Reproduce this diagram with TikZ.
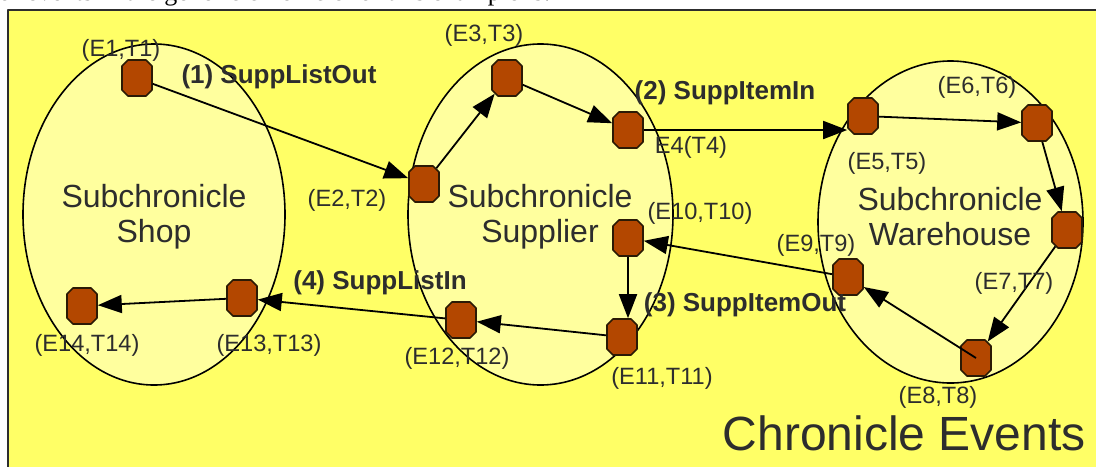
\documentclass[tikz,border=0pt]{standalone}
\usepackage{fontspec}
\setmainfont{Liberation Sans}
\newfontfamily\pageserif{Liberation Serif}
\usetikzlibrary{arrows.meta,shapes.geometric,shapes.misc}
\definecolor{chrpanel}{HTML}{FFFF66}
\definecolor{chrsub}{HTML}{FFFF9E}
\definecolor{chrevent}{HTML}{B34700}
\definecolor{chredge}{HTML}{2B1A05}
\definecolor{chrink}{HTML}{2D2D2D}

\begin{document}
\begin{tikzpicture}[x=0.5pt,y=-0.5pt,>={Triangle[length=12pt,width=9pt]},
  line join=round,
  sub/.style={ellipse,draw=black,line width=0.8pt,fill=chrsub,inner sep=0pt},
  event/.style={chamfered rectangle,chamfered rectangle xsep=1.5pt,
    chamfered rectangle ysep=1.5pt,inner xsep=6pt,inner ysep=7.5pt,
    fill=chrevent,draw=chredge,line width=0.8pt},
  stamp/.style={font=\fontsize{11.8}{13}\selectfont,text=chrink,inner sep=0pt},
  msg/.style={font=\fontsize{13}{15}\selectfont\bfseries,text=chrink,inner sep=0pt},
  title/.style={font=\fontsize{16}{17.5}\selectfont,text=chrink,align=center,inner sep=0pt},
  flow/.style={->,line width=0.9pt}]
\path[use as bounding box] (0,0) rectangle (1096,466);
\fill[white] (0,0) rectangle (1096,466);

% line of the page above the figure, cut off
\begin{scope}
  \clip (0,0) rectangle (1096,9);
  \node[font=\pageserif\fontsize{13}{15}\selectfont,anchor=base west,inner sep=0pt]
    (pagetext) at (-2,1) {of events in the generic chronicle for this example is:};
\end{scope}

% panel
\draw[fill=chrpanel,draw=chrink,line width=1pt] (8,10) rectangle (1110,480);

% the three subchronicles
\node[sub,minimum width=131pt,minimum height=170.5pt] (shop) at (154,214.5) {};
\node[sub,minimum width=132.5pt,minimum height=170.5pt] (supplier) at (540.5,214.5) {};
\node[sub,minimum width=132.5pt,minimum height=161pt] (warehouse) at (950.5,222) {};
\node[title] (shoptxt) at (154,217) {Subchronicle\\Shop};
\node[title] (suppliertxt) at (540,217) {Subchronicle\\Supplier};
\node[title] (warehousetxt) at (950,217) {Subchronicle\\Warehouse};

% events
\node[event] (e1) at (137,78) {};
\node[event] (e2) at (424,184) {};
\node[event] (e3) at (507,78) {};
\node[event] (e4) at (628,130) {};
\node[event] (e5) at (863,116) {};
\node[event] (e6) at (1037,123) {};
\node[event] (e7) at (1067,230) {};
\node[event] (e8) at (976,358) {};
\node[event] (e9) at (848,277) {};
\node[event] (e10) at (628,238) {};
\node[event] (e11) at (622,337) {};
\node[event] (e12) at (461,320) {};
\node[event] (e13) at (242,298) {};
\node[event] (e14) at (82,306) {};

% order of the events
\draw[flow] (e1) -- (e2);
\draw[flow] (e2) -- (e3);
\draw[flow] (e3) -- (e4);
\draw[flow] (e4) -- (e4 -| e5.west);
\draw[flow] (e5) -- (e6);
\draw[flow] (e6) -- (e7);
\draw[flow] (e7) -- (e8);
\draw[flow] (e8.center) -- (e9);
\draw[flow] (e9) -- (e10);
\draw[flow] (e10) -- (e10 |- e11.north);
\draw[flow] (e11) -- (e12);
\draw[flow] (e12) -- (e13);
\draw[flow] (e13) -- (e14);

% time stamps
\node[stamp] (t1) at (121,50) {(E1,T1)};
\node[stamp] (t2) at (347,200) {(E2,T2)};
\node[stamp] (t3) at (484,35) {(E3,T3)};
\node[stamp] (t4) at (691,147) {E4(T4)};
\node[stamp] (t5) at (887,163) {(E5,T5)};
\node[stamp] (t6) at (977,87) {(E6,T6)};
\node[stamp] (t7) at (1014,283) {(E7,T7)};
\node[stamp] (t8) at (938,397) {(E8,T8)};
\node[stamp] (t9) at (816,245) {(E9,T9)};
\node[stamp] (t10) at (700,213) {(E10,T10)};
\node[stamp] (t11) at (662,378) {(E11,T11)};
\node[stamp] (t12) at (457,358) {(E12,T12)};
\node[stamp] (t13) at (269,345) {(E13,T13)};
\node[stamp] (t14) at (87,345) {(E14,T14)};

% messages between subchronicles
\node[msg] (m1) at (279,77) {(1) SuppListOut};
\node[msg] (m2) at (725,93) {(2) SuppItemIn};
\node[msg] (m3) at (745,305) {(3) SuppItemOut};
\node[msg] (m4) at (380,283) {(4) SuppListIn};

\node[font=\fontsize{24}{28}\selectfont,text=chrink,anchor=base east,inner sep=0pt]
  (caption) at (1086,450) {Chronicle Events};
\end{tikzpicture}
\end{document}
